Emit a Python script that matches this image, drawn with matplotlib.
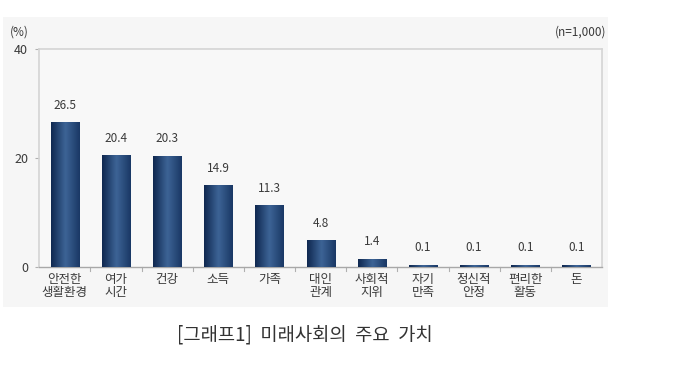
import matplotlib
matplotlib.use("Agg")
import matplotlib.pyplot as plt
import numpy as np
from matplotlib.patches import Rectangle
from matplotlib.colors import LinearSegmentedColormap

plt.rcParams['font.family'] = ['Noto Sans CJK KR', 'DejaVu Sans']

# data
categories = ["안전한\n생활환경", "여가\n시간", "건강", "소득", "가족", "대인\n관계",
              "사회적\n지위", "자기\n만족", "정신적\n안정", "편리한\n활동", "돈"]
values = [26.5, 20.4, 20.3, 14.9, 11.3, 4.8, 1.4, 0.1, 0.1, 0.1, 0.1]
value_labels = ["26.5", "20.4", "20.3", "14.9", "11.3", "4.8", "1.4", "0.1", "0.1", "0.1", "0.1"]
yticks = [0, 20, 40]

text_col = "#3a3a3a"

fig = plt.figure(figsize=(7.0, 3.67), dpi=100)
fig.patch.set_facecolor("white")

# light gray panel behind the chart
panel = Rectangle((0.004, 0.163), 0.864, 0.79, transform=fig.transFigure,
                  facecolor="#f6f6f6", edgecolor="none", zorder=-5)
fig.patches.append(panel)

ax = fig.add_axes([0.056, 0.2725, 0.804, 0.594])
ax.set_facecolor("#f8f8f8")

x = np.arange(len(values))
bars = ax.bar(x, values, width=0.55, color="#1e3e6c", zorder=2)

# horizontal gradient on each bar: dark edges, lighter middle
cmap = LinearSegmentedColormap.from_list("bar", ["#0f2850", "#3d6496", "#1a3865"])
grad = np.linspace(0, 1, 64).reshape(1, -1)
for b in bars:
    bx, bw, bh = b.get_x(), b.get_width(), b.get_height()
    top = max(bh, 0.35)
    ax.imshow(grad, cmap=cmap, aspect="auto", extent=(bx, bx + bw, 0, top),
              zorder=3, interpolation="bicubic")
    b.set_visible(False)

for xi, v, lab in zip(x, values, value_labels):
    ax.text(xi, max(v, 0.35) + 2.0, lab, ha="center", va="bottom",
            fontsize=8.5, color=text_col, zorder=4)

ax.set_xlim(-0.5, len(values) - 0.5)
ax.set_ylim(0, 40)
ax.set_yticks(yticks)
ax.set_yticklabels([str(t) for t in yticks], fontsize=9, color=text_col)
ax.tick_params(axis="y", length=3, color="#b0b0b0", pad=5)

ax.set_xticks(x)
ax.set_xticklabels(categories, fontsize=9, color=text_col, linespacing=1.0, va="top")
ax.tick_params(axis="x", length=0, pad=4)
for xb in np.arange(0.5, len(values) - 0.5, 1.0):
    ax.plot([xb, xb], [0, -0.8], color="#b0b0b0", lw=0.8, clip_on=False, zorder=1)

for side in ["top", "right", "left"]:
    ax.spines[side].set_color("#d4d4d4")
    ax.spines[side].set_linewidth(1.2)
ax.spines["bottom"].set_color("#a8a8a8")
ax.spines["bottom"].set_linewidth(1.0)

fig.text(0.028, 0.912, "(%)", fontsize=8.5, color=text_col, ha="center", va="center")
fig.text(0.866, 0.912, "(n=1,000)", fontsize=8.5, color=text_col, ha="right", va="center")

fig.text(0.436, 0.087, "[그래프1]  미래사회의  주요  가치", fontsize=13.5, color="#333333",
         ha="center", va="center")

fig.savefig("out.png", dpi=100)
